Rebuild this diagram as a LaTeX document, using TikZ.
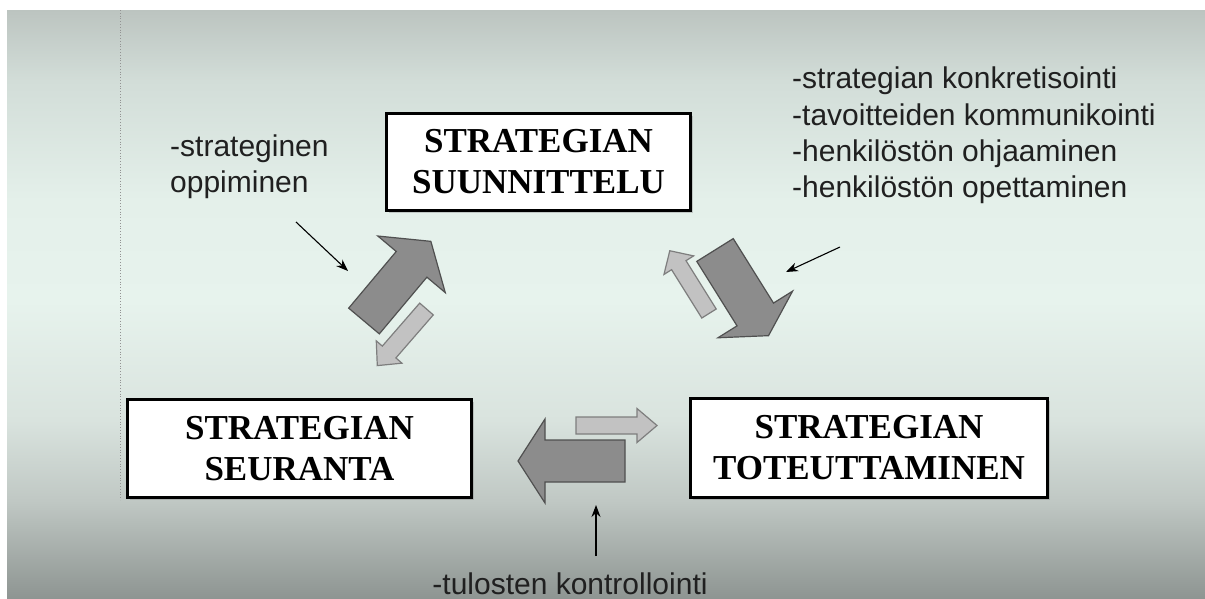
\documentclass[tikz,border=0pt]{standalone}
\usepackage{fontspec}
\setmainfont{Liberation Serif}
\newfontfamily\labelfont{Liberation Sans}
\usetikzlibrary{arrows.meta,shadows}

% slide background and arrow colours
\definecolor{bgA}{HTML}{BCC4C0}
\definecolor{bgB}{HTML}{D2DDD8}
\definecolor{bgC}{HTML}{E4F0EA}
\definecolor{bgD}{HTML}{E7F3ED}
\definecolor{bgE}{HTML}{D9E3DE}
\definecolor{bgF}{HTML}{C0C8C4}
\definecolor{bgG}{HTML}{8E9592}
\definecolor{arrowdark}{HTML}{8C8C8C}
\definecolor{arrowdarkline}{HTML}{505050}
\definecolor{arrowlight}{HTML}{C2C2C2}
\definecolor{arrowlightline}{HTML}{7E7E7E}
\definecolor{notetext}{HTML}{202020}

\pgfdeclareverticalshading{slidebg}{100bp}{%
  color(0bp)=(bgG); color(25bp)=(bgG); color(33.3bp)=(bgF);
  color(40.1bp)=(bgE); color(50.3bp)=(bgD); color(58.8bp)=(bgC);
  color(69bp)=(bgB); color(75bp)=(bgA); color(100bp)=(bgA)}

\tikzset{
  stage/.style={draw=black, line width=3pt, fill=white, align=center,
    inner sep=0pt, font=\fontsize{35}{41}\selectfont\bfseries,
    drop shadow={shadow xshift=2pt, shadow yshift=-2pt, opacity=0.35}},
  note/.style={inner sep=0pt, text=notetext,
    font=\labelfont\fontsize{30}{36}\selectfont},
  pointer/.style={draw=black, line width=1.1pt,
    -{Stealth[length=12pt, width=9pt]}},
  guide/.style={draw=gray!85, line width=0.8pt, dotted},
  darkblock/.style={fill=arrowdark, draw=arrowdarkline, line width=1.2pt, line join=miter},
  lightblock/.style={fill=arrowlight, draw=arrowlightline, line width=1.2pt, line join=miter},
  % block arrow: length, shaft half width, head half width, head length
  pics/blockarrow/.style n args={4}{code={
    \path[pic actions] (0,-#2) -- (#1-#4,-#2) -- (#1-#4,-#3) -- (#1,0)
      -- (#1-#4,#3) -- (#1-#4,#2) -- (0,#2) -- cycle;
  }},
}

\begin{document}
\begin{tikzpicture}[x=1pt, y=-1pt]
\useasboundingbox (0,0) rectangle (1205,598);
\fill[white] (0,0) rectangle (1205,598);
\shade[shading=slidebg] (7,10) rectangle (1205,598);
\draw[guide] (120,10) -- (120,500);

% the three phases
\node[stage, minimum width=304, minimum height=97] (plan) at (538.5,162)
  {STRATEGIAN\\SUUNNITTELU};
\node[stage, minimum width=344, minimum height=98] (follow) at (299.5,448.5)
  {STRATEGIAN\\SEURANTA};
\node[stage, minimum width=357, minimum height=99] (exec) at (869,448)
  {STRATEGIAN\\TOTEUTTAMINEN};

% block arrows between the phases
\pic[darkblock, rotate=50] (upL) at (364,321) {blockarrow={104}{20}{44}{30}};
\pic[lightblock, rotate=229] (dnL) at (426.5,309) {blockarrow={75}{9}{17}{18}};
\pic[darkblock, rotate=-58] (dnR) at (715,250) {blockarrow={101}{21.5}{44}{25}};
\pic[lightblock, rotate=122] (upR) at (709,313.5) {blockarrow={74}{8.5}{17.5}{17}};
\pic[darkblock, rotate=180] (left) at (625,461) {blockarrow={107}{21}{42}{27}};
\pic[lightblock, rotate=0] (right) at (576,425.5) {blockarrow={81}{8.5}{17}{20}};

% notes
\node[note, anchor=base west] (learnA) at (170,156) {-strateginen};
\node[note, anchor=base west] (learnB) at (170,192) {oppiminen};

\node[note, anchor=base west] (doA) at (792,88) {-strategian konkretisointi};
\node[note, anchor=base west] (doB) at (792,125) {-tavoitteiden kommunikointi};
\node[note, anchor=base west] (doC) at (792,161) {-henkilöstön ohjaaminen};
\node[note, anchor=base west] (doD) at (792,197) {-henkilöstön opettaminen};

\node[note, anchor=base] (check) at (570,594) {-tulosten kontrollointi};

% pointers from the notes
\coordinate (learnTail) at (296,222);
\coordinate (learnTip) at (348,271);
\coordinate (doTail) at (840,247);
\coordinate (doTip) at (786,272);
\coordinate (checkTail) at (596,556);
\coordinate (checkTip) at (596,505);
\draw[pointer] (learnTail) -- (learnTip);
\draw[pointer] (doTail) -- (doTip);
\draw[pointer] (checkTail) -- (checkTip);
\end{tikzpicture}
\end{document}
